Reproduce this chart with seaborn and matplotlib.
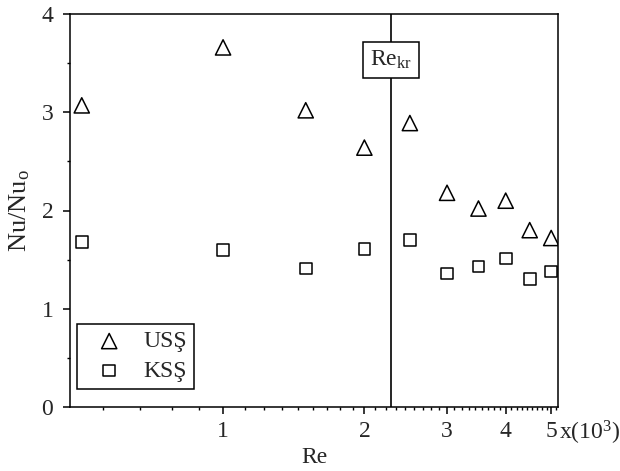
import numpy as np
import pandas as pd
import matplotlib.pyplot as plt
import matplotlib.ticker as mticker
import seaborn as sns

# values (Re in units of 10^3)
re_vals = [0.5, 1.0, 1.5, 2.0, 2.5, 3.0, 3.5, 4.0, 4.5, 5.0]
nu_uss = [3.07, 3.66, 3.02, 2.64, 2.89, 2.18, 2.02, 2.10, 1.80, 1.72]
nu_kss = [1.68, 1.60, 1.41, 1.61, 1.70, 1.36, 1.43, 1.51, 1.30, 1.38]
re_kr = 2.28
xticks = [1, 2, 3, 4, 5]
xticklabels = ["1", "2", "3", "4", "5"]
yticks = [0, 1, 2, 3, 4]

df = pd.DataFrame({"Re": re_vals * 2,
                   "Nu": nu_uss + nu_kss,
                   "Seri": ["USŞ"] * len(re_vals) + ["KSŞ"] * len(re_vals)})

sns.set_style("ticks")
plt.rcParams["font.family"] = ["Liberation Serif", "DejaVu Serif"]
plt.rcParams["mathtext.fontset"] = "custom"
plt.rcParams["mathtext.rm"] = "Liberation Serif"
plt.rcParams["mathtext.it"] = "Liberation Serif"

fig = plt.figure(figsize=(6.2, 4.71), dpi=100)
ax = fig.add_axes([70 / 620, 64 / 471, 488 / 620, 393 / 471])

sns.scatterplot(data=df[df.Seri == "USŞ"], x="Re", y="Nu", marker="^", s=120,
                facecolor="none", edgecolor="black", linewidth=1.1, ax=ax, label="USŞ")
sns.scatterplot(data=df[df.Seri == "KSŞ"], x="Re", y="Nu", marker="s", s=70,
                facecolor="none", edgecolor="black", linewidth=1.1, ax=ax, label="KSŞ")

# critical Reynolds number
ax.axvline(re_kr, color="black", lw=1.2, zorder=1)
ax.text(re_kr, 3.53, "Re$_\\mathregular{kr}$", ha="center", va="center", fontsize=17,
        bbox=dict(boxstyle="square,pad=0.3", fc="white", ec="black", lw=1.1))

ax.set_xscale("log")
ax.set_xlim(0.472, 5.17)
ax.set_ylim(0, 4)
ax.xaxis.set_major_locator(mticker.FixedLocator(xticks))
ax.xaxis.set_major_formatter(mticker.FixedFormatter(xticklabels))
minor = [n + k / 9 for n in range(0, 6) for k in range(1, 9)]
ax.xaxis.set_minor_locator(mticker.FixedLocator(minor))
ax.xaxis.set_minor_formatter(mticker.NullFormatter())
ax.yaxis.set_major_locator(mticker.FixedLocator(yticks))
ax.yaxis.set_minor_locator(mticker.MultipleLocator(0.5))

for s in ax.spines.values():
    s.set_linewidth(1.1)
    s.set_color("black")
ax.tick_params(which="major", direction="out", length=5, width=1.1, labelsize=17, color="black")
ax.tick_params(axis="y", which="major", pad=7)
ax.tick_params(axis="x", which="major", pad=5)
ax.tick_params(which="minor", direction="out", length=2.5, width=1.0, color="black")

ax.set_xlabel("Re", fontsize=17, labelpad=4)
ax.set_ylabel("Nu/Nu$_\\mathregular{o}$", fontsize=19, labelpad=7)
fig.text(559 / 620, 1 - 433 / 471, "x(10$^\\mathregular{3}$)", ha="left", va="center", fontsize=17)

leg = ax.legend(loc="lower left", bbox_to_anchor=(0.015, 0.046), borderaxespad=0, fontsize=17,
                frameon=True, fancybox=False, edgecolor="black", framealpha=1,
                handlelength=2.1, handletextpad=0.4, borderpad=0.3, labelspacing=0.34,
                scatterpoints=1)
leg.get_frame().set_linewidth(1.1)

fig.savefig("out.png", dpi=100)
